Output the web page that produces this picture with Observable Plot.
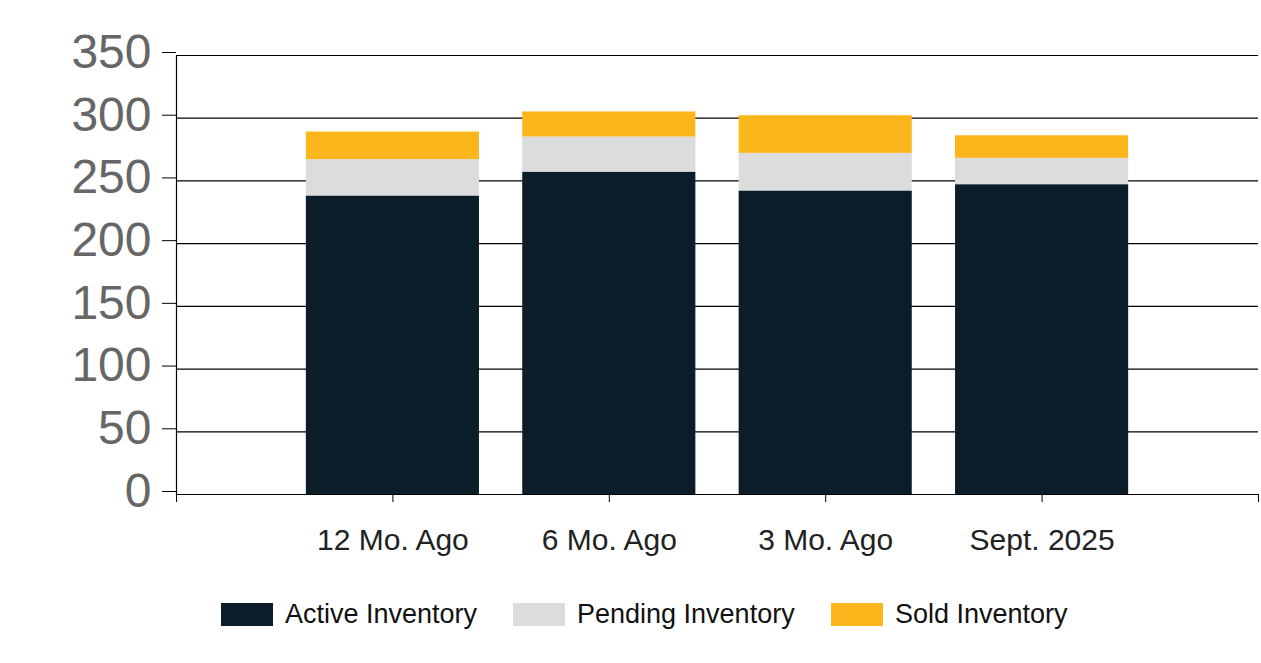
<!DOCTYPE html>
<html>
<head>
<meta charset="utf-8">
<script src="https://cdn.jsdelivr.net/npm/d3@7"></script>
<script src="https://cdn.jsdelivr.net/npm/@observablehq/plot@0.6"></script>
<style>
  body { margin: 0; background: #fff; font-family: "Liberation Sans", Arial, sans-serif; }
  #wrap { position: relative; width: 1261px; height: 663px; }
  #legend { position: absolute; top: 599px; left: 0; width: 1261px; height: 32px; }
  .item { position: absolute; top: 0; display: flex; align-items: center; font-size: 27px; color: #111; }
  .sw { width: 52px; height: 23px; margin-right: 12px; }
</style>
</head>
<body>
<div id="wrap"><div id="chart"></div><div id="legend"></div></div>
<script>
const categories = ["12 Mo. Ago", "6 Mo. Ago", "3 Mo. Ago", "Sept. 2025"];
const series = ["Active Inventory", "Pending Inventory", "Sold Inventory"];
const colors = ["#0b1d29", "#dcdcdc", "#fbb61c"];
const active = [238, 257, 242, 247];
const pending = [29, 28, 30, 21];
const sold = [22, 20, 30, 18];
const yTicks = [0, 50, 100, 150, 200, 250, 300, 350];

const values = [active, pending, sold];
const rows = [];
categories.forEach((c, i) => {
  let base = 0;
  series.forEach((s, k) => {
    const v = values[k][i];
    rows.push({i, category: c, series: s, y1: base, y2: base + v});
    base += v;
  });
});

const xTicks = [-1, ...categories.map((_, i) => i), categories.length];

const chart = Plot.plot({
  width: 1261,
  height: 580,
  marginLeft: 176,
  marginRight: 3,
  marginTop: 55,
  marginBottom: 86,
  style: { fontFamily: "'Liberation Sans', Arial, sans-serif", background: "#fff" },
  x: { type: "linear", domain: [-1, categories.length], axis: null },
  y: { domain: [0, 350], axis: null },
  color: { domain: series, range: colors },
  marks: [
    Plot.gridY(yTicks, { stroke: "#000", strokeOpacity: 1, strokeWidth: 1.2 }),
    Plot.rectY(rows, { x1: d => d.i - 0.4, x2: d => d.i + 0.4, y1: "y1", y2: "y2", fill: "series" }),
    Plot.frame({ anchor: "left", stroke: "#000", strokeWidth: 1.2 }),
    Plot.ruleY([0], { stroke: "#000", strokeWidth: 1.2 }),
    Plot.axisY(yTicks, { tickSize: 14, tickPadding: 11, fontSize: 48, fill: "#666", stroke: "#000", dy: -3, tickFormat: d => String(d) }),
    Plot.axisX(xTicks, { tickSize: 8, tickPadding: 26, fontSize: 30, fill: "#222", stroke: "#000",
      tickFormat: d => (d >= 0 && d < categories.length ? categories[d] : "") })
  ]
});
document.getElementById("chart").appendChild(chart);

const lefts = [221, 513, 831];
const legend = document.getElementById("legend");
series.forEach((s, k) => {
  const item = document.createElement("div");
  item.className = "item";
  item.style.left = lefts[k] + "px";
  item.innerHTML = `<span class="sw" style="background:${colors[k]}"></span><span>${s}</span>`;
  legend.appendChild(item);
});
</script>
</body>
</html>
